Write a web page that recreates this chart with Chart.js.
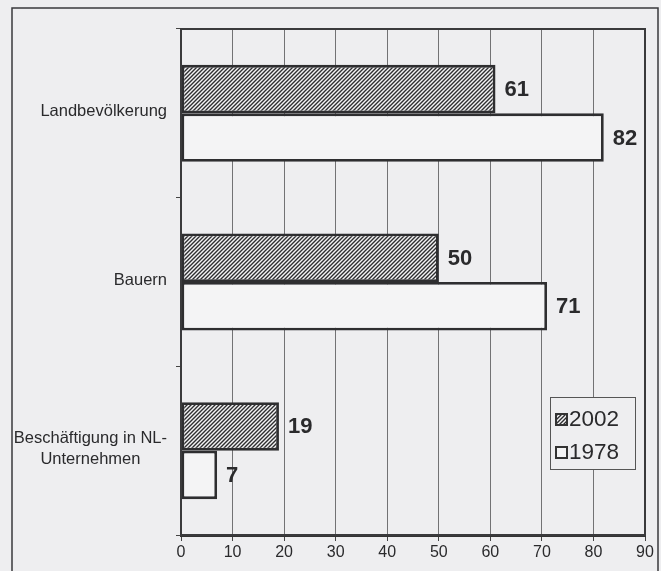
<!DOCTYPE html>
<html lang="de">
<head>
<meta charset="utf-8">
<title>Landbevölkerung, Bauern, Beschäftigung</title>
<script src="https://cdn.jsdelivr.net/npm/chart.js@4.4.1/dist/chart.umd.min.js"></script>
<style>
    html, body { margin: 0; padding: 0; background: #eeeef0; }
    #grafico { display: block; }
</style>
</head>
<body>
<canvas id="grafico" width="661" height="571"></canvas>
<script>
"use strict";

// ============================================================
// DATI
// ============================================================
const categorie  = [["Landbevölkerung"], ["Bauern"], ["Beschäftigung in NL-", "Unternehmen"]];
const serieNomi  = ["2002", "1978"];
const valori2002 = [61, 50, 19];
const valori1978 = [82, 71, 7];
const assaMin = 0;
const assaMax = 90;
const assaPasso = 10;

const CARTA = "#eeeef0";   // colore della carta
const INCHIOSTRO = "#2a2a2c";
const FONT = "'Liberation Sans', Arial, Helvetica, sans-serif";

// ------------------------------------------------------------
// tratteggio "////" per la serie 2002
// ------------------------------------------------------------
function creaTratteggio() {
    let c = document.createElement("canvas");
    c.width = 4; c.height = 4;
    let g = c.getContext("2d");
    g.fillStyle = "#f4f4f5";
    g.fillRect(0, 0, 4, 4);
    g.strokeStyle = "#2e2e30";
    g.lineWidth = 1.4;
    g.beginPath();
    g.moveTo(-1, 5); g.lineTo(5, -1);
    g.moveTo(-1, 1); g.lineTo(1, -1);
    g.moveTo(3, 5); g.lineTo(5, 3);
    g.stroke();
    return document.getElementById("grafico").getContext("2d").createPattern(c, "repeat");
}
const tratteggio = creaTratteggio();
const biancoBarra = "#f4f4f5";

// ============================================================
// PLUGIN: sfondo + cornice esterna
// ============================================================
const sfondo = {
    id: "sfondo",
    beforeDraw(chart) {
        let ctx = chart.ctx;
        ctx.save();
        ctx.fillStyle = CARTA;
        ctx.fillRect(0, 0, chart.width, chart.height);
        ctx.strokeStyle = "#3a3a3c";
        ctx.lineWidth = 1.5;
        ctx.beginPath();
        ctx.moveTo(12, chart.height + 5);
        ctx.lineTo(12, 8);
        ctx.lineTo(658, 8);
        ctx.lineTo(658, chart.height + 5);
        ctx.stroke();
        ctx.restore();
    }
};

// ============================================================
// PLUGIN: riquadro area, etichette categorie, valori, legenda
// ============================================================
const decorazioni = {
    id: "decorazioni",
    afterDraw(chart) {
        let ctx = chart.ctx;
        let a = chart.chartArea;
        let y = chart.scales.y;
        ctx.save();

        // bordo dell'area del grafico
        ctx.strokeStyle = "#3a3a3c";
        ctx.lineWidth = 2;
        ctx.strokeRect(a.left, a.top, a.right - a.left, a.bottom - a.top);

        // etichette categorie: blocco allineato a destra, righe centrate
        ctx.fillStyle = INCHIOSTRO;
        ctx.font = "16.5px " + FONT;
        ctx.textBaseline = "middle";
        ctx.textAlign = "center";
        chart.data.labels.forEach(function (righe, i) {
            let larg = Math.max(...righe.map(r => ctx.measureText(r).width));
            let cx = 167 - larg / 2;
            let cy = y.getPixelForValue(i);
            let h = 21;
            righe.forEach(function (r, k) {
                ctx.fillText(r, cx, cy + (k - (righe.length - 1) / 2) * h - 2);
            });
        });

        // valori in grassetto a destra delle barre
        ctx.font = "bold 22px " + FONT;
        ctx.textAlign = "left";
        chart.data.datasets.forEach(function (ds, d) {
            chart.getDatasetMeta(d).data.forEach(function (barra, i) {
                ctx.fillText(String(ds.data[i]), barra.x + 9, barra.y + 1);
            });
        });

        // legenda
        let lx = 550, ly = 397, lw = 85, lh = 72;
        ctx.fillStyle = CARTA;
        ctx.fillRect(lx, ly, lw, lh);
        ctx.strokeStyle = "#555";
        ctx.lineWidth = 1;
        ctx.strokeRect(lx + 0.5, ly + 0.5, lw, lh);
        ctx.font = "22.5px " + FONT;
        chart.data.datasets.forEach(function (ds, d) {
            let cy = 419 + d * 33;
            ctx.fillStyle = ds.backgroundColor;
            ctx.fillRect(556, cy - 5, 11, 11);
            ctx.strokeStyle = "#333";
            ctx.lineWidth = 2;
            ctx.strokeRect(556, cy - 5, 11, 11);
            ctx.fillStyle = INCHIOSTRO;
            ctx.fillText(ds.label, 569, cy + 1);
        });

        ctx.restore();
    }
};

// ============================================================
// GRAFICO
// ============================================================
new Chart(document.getElementById("grafico"), {
    type: "bar",
    data: {
        labels: categorie,
        datasets: [
            {
                label: serieNomi[0],
                data: valori2002,
                backgroundColor: tratteggio,
                borderColor: "#2e2e30",
                borderWidth: 2.8,
                borderSkipped: false
            },
            {
                label: serieNomi[1],
                data: valori1978,
                backgroundColor: biancoBarra,
                borderColor: "#2e2e30",
                borderWidth: 2.8,
                borderSkipped: false
            }
        ]
    },
    options: {
        indexAxis: "y",
        responsive: false,
        animation: false,
        devicePixelRatio: 1,
        layout: { padding: { top: 29, right: 16, left: 0, bottom: 0 } },
        datasets: { bar: { categoryPercentage: 0.575, barPercentage: 1 } },
        plugins: {
            legend: { display: false },
            tooltip: { enabled: false }
        },
        scales: {
            x: {
                min: assaMin,
                max: assaMax,
                ticks: {
                    stepSize: assaPasso,
                    color: INCHIOSTRO,
                    font: { family: FONT, size: 16 },
                    padding: 2,
                    maxRotation: 0
                },
                grid: { color: "#727274", lineWidth: 1, tickColor: "#444", tickLength: 6 },
                border: { color: "#333", width: 3 },
                afterFit(scale) { scale.height = 36; }
            },
            y: {
                ticks: { display: false },
                grid: {
                    offset: true,
                    drawOnChartArea: false,
                    tickLength: 5,
                    tickColor: "#444",
                    color: "#444"
                },
                border: { color: "#333", width: 2 },
                afterFit(scale) { scale.width = 181; }
            }
        }
    },
    plugins: [sfondo, decorazioni]
});
</script>
</body>
</html>
